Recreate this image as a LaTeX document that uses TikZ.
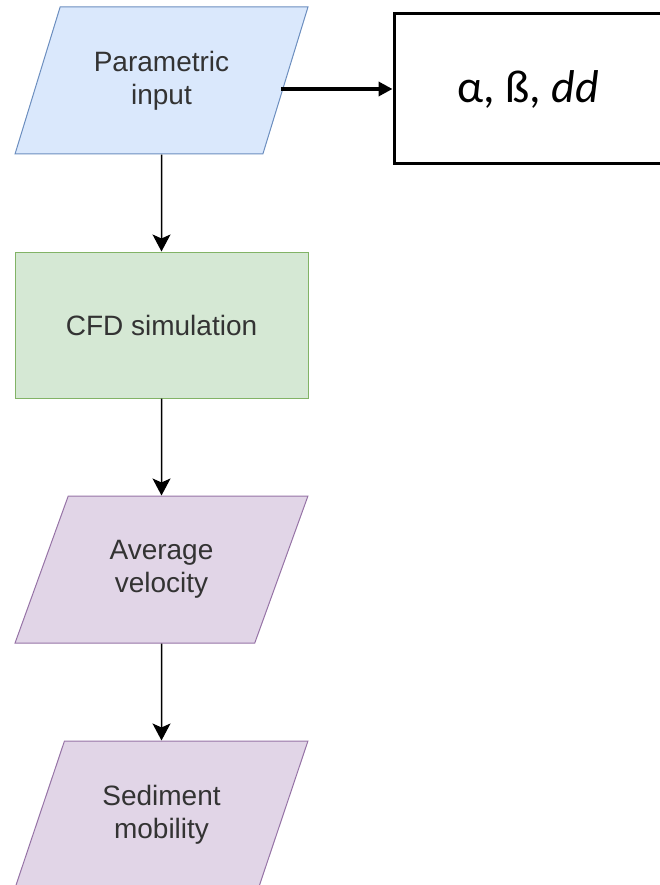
\documentclass[tikz,border=0pt]{standalone}
\usepackage{fontspec}
\setmainfont{Liberation Sans}
\newfontfamily\calibrifont{Carlito}
\usetikzlibrary{shapes.geometric,arrows.meta}

\definecolor{inpfill}{HTML}{DAE8FC}
\definecolor{inpline}{HTML}{6C8EBF}
\definecolor{simfill}{HTML}{D5E8D4}
\definecolor{simline}{HTML}{82B366}
\definecolor{outfill}{HTML}{E1D5E7}
\definecolor{outline}{HTML}{9673A6}

\tikzset{
  datapara/.style={trapezium, trapezium left angle=63, trapezium right angle=117,
    trapezium stretches=true, minimum width=293pt, minimum height=147pt,
    inner sep=0pt, line width=1pt, align=center, text=black!80,
    font=\fontsize{28}{33}\selectfont},
  simbox/.style={rectangle, minimum width=293pt, minimum height=146pt,
    inner sep=0pt, line width=1pt, align=center, text=black!80,
    font=\fontsize{28}{33}\selectfont, draw=simline, fill=simfill},
  parbox/.style={rectangle, draw=black, line width=3pt, minimum width=268pt,
    minimum height=150pt, font=\calibrifont\fontsize{46}{52}\selectfont},
  flow/.style={-{Stealth[length=17pt,width=18pt,inset=4pt]}, line width=1.5pt},
}

\begin{document}
\begin{tikzpicture}[x=1pt,y=-1pt]
    \useasboundingbox (0,0) rectangle (659,885);
    % Flow chart
    \node[datapara, draw=inpline, fill=inpfill] (inp) at (161.5,80.5) {Parametric\\input};
    \node[simbox] (cfd) at (161.5,325) {CFD simulation};
    \node[datapara, draw=outline, fill=outfill] (avg) at (161.5,569.5) {Average\\velocity};
    \node[datapara, draw=outline, fill=outfill] (sed) at (161.5,814.5) {Sediment\\mobility};
    %
    \node[parbox] (par) at (528,89) {α, ß, \textit{dd}};
    %
    \draw[flow] (inp.south) -- (cfd.north);
    \draw[flow] (cfd.south) -- (avg.north);
    \draw[flow] (avg.south) -- (sed.north);
    \draw[-{Triangle[length=14pt,width=14pt]}, line width=4pt] ([xshift=-5pt]par.west -| inp.east) -- (par.west);
\end{tikzpicture}
\end{document}
